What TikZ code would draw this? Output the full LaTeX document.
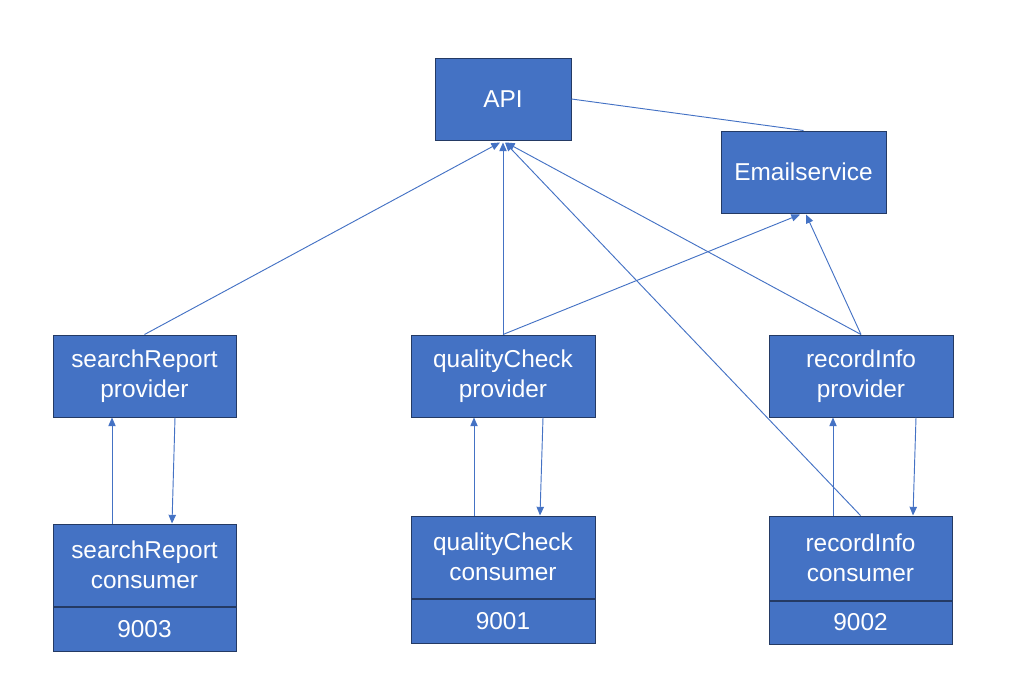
\documentclass[tikz,border=0pt]{standalone}
\usepackage{fontspec}
\setmainfont{Liberation Sans}
\usetikzlibrary{calc,arrows.meta}
\definecolor{boxfill}{RGB}{68,114,196}
\definecolor{boxline}{RGB}{36,58,100}
\definecolor{linkc}{RGB}{68,114,196}
\tikzset{
  box/.style={draw=boxline, line width=0.75pt, fill=boxfill, text=white, align=center, inner sep=0pt,
    font=\fontsize{18.3}{22.5}\selectfont},
  link/.style={draw=linkc, line width=0.7pt},
  arr/.style={link, -{Triangle[length=6.5pt,width=5.5pt]}},
}
\begin{document}
\begin{tikzpicture}[x=0.75pt,y=-0.75pt]
\useasboundingbox (0,0) rectangle (1011,679);
% boxes
\node[box, minimum width=102pt, minimum height=61.5pt] (api) at (503,99) {API};
\node[box, minimum width=123.75pt, minimum height=61.5pt] (email) at (803.5,172) {Emailservice};
\node[box, minimum width=137.25pt, minimum height=61.5pt] (spP) at (144.5,376) {searchReport\\provider};
\node[box, minimum width=138pt, minimum height=61.5pt] (qcP) at (503,376) {qualityCheck\\provider};
\node[box, minimum width=138pt, minimum height=61.5pt] (riP) at (861,376) {recordInfo\\provider};
\node[box, minimum width=137.25pt, minimum height=61.5pt] (spC) at (144.5,565) {searchReport\\consumer};
\node[box, minimum width=137.25pt, minimum height=33pt, anchor=north] (spN) at (spC.south) {9003};
\node[box, minimum width=138pt, minimum height=61.5pt] (qcC) at (503,557) {qualityCheck\\consumer};
\node[box, minimum width=138pt, minimum height=33pt, anchor=north] (qcN) at (qcC.south) {9001};
\node[box, minimum width=137.25pt, minimum height=63pt] (riC) at (860.5,558) {recordInfo\\consumer};
\node[box, minimum width=137.25pt, minimum height=32.25pt, anchor=north] (riN) at (riC.south) {9002};
% connectors to API
\draw[arr] (spP.north) -- ($(api.south)+(-3,2)$);
\draw[arr] (qcP.north) -- ($(api.south)+(0,2)$);
\draw[arr] (riC.north) -- ($(api.south)+(2,2)$);
\draw[arr] (riP.north) -- ($(api.south)+(3,2)$);
% API to email
\draw[link] (api.east) -- (email.north);
% to email
\draw[arr] (qcP.north) -- ($(email.south)+(-3.5,1)$);
\draw[arr] (riP.north) -- ($(email.south)+(2.5,1)$);
% provider/consumer pairs
\draw[arr] ($(spC.north)+(-32.5,0)$) -- ($(spP.south)+(-32.5,0)$);
\draw[arr] ($(spP.south)+(30.5,0)$) -- ($(spC.north)+(27.5,0)$);
\draw[arr] ($(qcC.north)+(-29,0)$) -- ($(qcP.south)+(-29,0)$);
\draw[arr] ($(qcP.south)+(40,0)$) -- ($(qcC.north)+(37,0)$);
\draw[arr] ($(riC.north)+(-27.5,0)$) -- ($(riP.south)+(-28,0)$);
\draw[arr] ($(riP.south)+(55,0)$) -- ($(riC.north)+(52.5,0)$);
\end{tikzpicture}
\end{document}
